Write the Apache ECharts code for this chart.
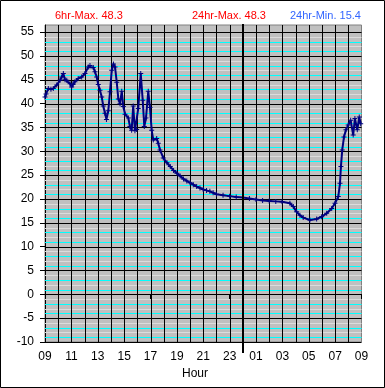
<!DOCTYPE html>
<html><head><meta charset="utf-8">
<script src="https://cdn.jsdelivr.net/npm/echarts@6/dist/echarts.min.js"></script>
<style>html,body{margin:0;padding:0;background:#fff}#c{width:385px;height:388px}</style>
</head><body><div id="c"></div>
<script>
// hours since 09:00
const hours = [0,0.08,0.25,0.45,0.63,0.89,1.14,1.27,1.39,1.52,1.65,1.9,2.02,2.12,2.27,2.52,2.78,3.03,3.28,3.41,3.66,3.79,3.92,4.04,4.17,4.3,4.42,4.55,4.66,4.8,4.93,5.06,5.19,5.31,5.44,5.56,5.69,5.82,5.94,6.07,6.32,6.44,6.57,6.69,6.82,6.95,7.07,7.26,7.41,7.53,7.66,7.83,7.96,8.09,8.21,8.47,8.59,8.72,8.97,9.25,9.5,9.75,10,10.25,10.5,10.75,11,11.25,11.5,11.75,12,12.25,12.5,12.75,13,13.5,14,14.5,15,15.5,16,16.5,17,17.5,17.97,18.57,18.83,19.08,19.33,19.58,20.09,20.6,20.98,21.36,21.74,21.99,22.24,22.37,22.44,22.54,22.67,22.82,22.99,23.18,23.37,23.5,23.68,23.83,23.94];
const temps = [41.4,42.0,43.2,43.0,43.2,43.9,44.9,45.6,46.3,45.0,44.9,44.2,43.5,44.0,44.6,45.3,45.6,46.3,47.7,48.0,47.6,46.7,45.6,44.0,42.8,41.4,39.5,38.0,36.7,38.5,42.5,47.0,48.3,47.7,44.5,41.0,40.0,42.6,39.4,37.8,37.0,35.2,34.4,39.5,34.3,34.6,39.0,46.3,40.7,35.2,37.0,42.6,39.2,34.4,32.4,32.7,31.7,30.3,28.6,27.6,26.8,26.0,25.4,24.8,24.2,23.8,23.4,23.0,22.6,22.3,22.0,21.8,21.6,21.3,21.0,20.8,20.6,20.4,20.3,20.1,19.9,19.7,19.6,19.5,19.4,19.1,18.4,17.3,16.6,16.1,15.6,15.8,16.3,17.0,18.0,19.1,20.5,23.3,26.8,30.3,33.0,34.5,35.5,36.5,33.4,36.9,34.5,37.2,35.8];
const yTicks = [-10,-5,0,5,10,15,20,25,30,35,40,45,50,55];
const startHour = 9;
const titles = ['6hr-Max. 48.3','24hr-Max. 48.3','24hr-Min. 15.4'];
const xName = 'Hour';

const yMin = -10, yMax = 56.5, xMin = 0, xMax = 24;
const chart = echarts.init(document.getElementById('c'), null, {renderer:'canvas'});
const data = hours.map((h,i)=>[h,temps[i]]);
const font = 'Liberation Sans, Arial, sans-serif';
chart.setOption({
  animation:false,
  backgroundColor:'#fff',
  grid:{left:45,right:23.5,top:25,bottom:46,show:true,backgroundColor:'#c0c0c0',borderColor:'#808080',borderWidth:1},
  xAxis:{type:'value',min:xMin,max:xMax,interval:2,
    axisLine:{lineStyle:{color:'#000',width:1}},
    axisTick:{show:true,length:5,lineStyle:{color:'#000'}},
    axisLabel:{color:'#000',fontSize:12,fontFamily:font,margin:9,
      formatter:v=>String((startHour+v)%24).padStart(2,'0')},
    splitLine:{show:false}
  },
  yAxis:{type:'value',min:yMin,max:yMax,interval:5,
    axisLine:{show:true,lineStyle:{color:'#000',width:1}},
    axisTick:{show:true,length:5,lineStyle:{color:'#000'},customValues:yTicks},
    axisLabel:{color:'#000',fontSize:12,fontFamily:font,margin:11,customValues:yTicks},
    splitLine:{show:false}
  },
  series:[{type:'line',data:data,z:5,
    lineStyle:{color:'#000080',width:2},
    itemStyle:{color:'#000080'},
    symbol:'path://M2,0H3V2H5V3H3V5H2V3H0V2H2Z',symbolSize:5,showAllSymbol:true
  }]
});
const px = (x,y)=>chart.convertToPixel({gridIndex:0},[x,y]);
const L = px(xMin,0)[0], R = px(xMax,0)[0];
const T = px(0,yMax)[1], B = px(0,yMin)[1];
const crisp = v => Math.round(v)+0.5;
const g = [];
// minor horizontal lines every 1 unit
for (let v=-9; v<55; v++) {
  const m = ((v%5)+5)%5;
  if (m===0) continue;
  const y = crisp(px(0,v)[1]);
  g.push({type:'line',shape:{x1:L,y1:y,x2:R,y2:y},style:{stroke:(m===1||m===3)?'#00ffff':'#dcdcdc',lineWidth:1},z:1,silent:true});
}
// major horizontal lines
yTicks.forEach(v=>{
  const y = crisp(px(0,v)[1]);
  g.push({type:'line',shape:{x1:L,y1:y,x2:R,y2:y},style:{stroke:'#000',lineWidth:1},z:1,silent:true});
});
// vertical hour lines
for (let h=xMin+1; h<xMax; h++) {
  const x = crisp(px(h,0)[0]);
  g.push({type:'line',shape:{x1:x,y1:T,x2:x,y2:B},style:{stroke:'#000',lineWidth:1},z:1,silent:true});
}
// midnight marker
const mx = Math.round(px(24-startHour,0)[0]);
g.push({type:'line',shape:{x1:mx,y1:T-1,x2:mx,y2:B+11},style:{stroke:'#000',lineWidth:2},z:10,silent:true});
g.push({type:'text',left:55,top:10,style:{text:titles[0],fill:'#ff0000',font:'11px '+font}});
g.push({type:'text',left:192,top:10,style:{text:titles[1],fill:'#ff0000',font:'11px '+font}});
g.push({type:'text',left:290,top:10,style:{text:titles[2],fill:'#3366ff',font:'11px '+font}});
g.push({type:'text',left:182,top:368,style:{text:xName,fill:'#000',font:'12px '+font}});
g.push({type:'rect',shape:{x:0.5,y:0.5,width:384,height:387},style:{fill:'none',stroke:'#000',lineWidth:1},silent:true});
chart.setOption({graphic:g});
</script></body></html>
